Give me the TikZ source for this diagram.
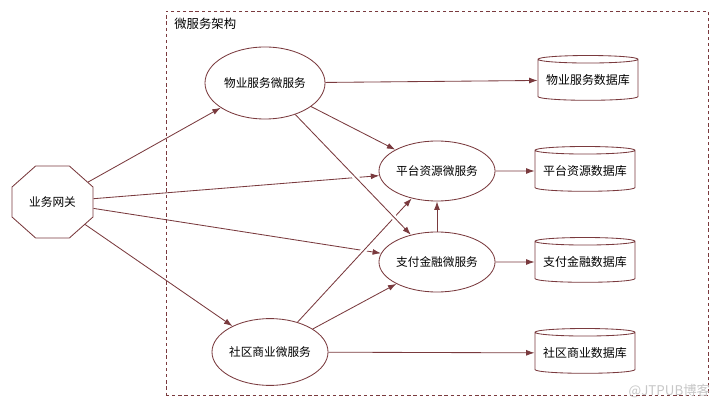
\documentclass[tikz,border=0pt]{standalone}
\usepackage{fontspec}
\setmainfont{Noto Sans CJK SC}
\usepackage{tikz}
\usetikzlibrary{arrows.meta,shapes.geometric}
\definecolor{linered}{HTML}{7A3A3E}
\tikzset{
  service/.style={ellipse, draw=linered, line width=0.6pt, inner sep=0pt, font=\fontsize{8.3pt}{10pt}\selectfont},
  store/.style={cylinder, shape border rotate=90, shape aspect=0.09, draw=linered, line width=0.6pt, inner sep=0pt,
    minimum width=2.5cm, minimum height=1.12cm, font=\fontsize{8.5pt}{10pt}\selectfont},
  gate/.style={regular polygon, regular polygon sides=8, draw=linered, line width=0.6pt, inner sep=0pt,
    minimum size=1.95cm, xscale=1.125, transform shape, font=\fontsize{8.3pt}{10pt}\selectfont},
  link/.style={-{Latex[length=6pt,width=4.2pt]}, color=linered, line width=0.6pt},
  gap/.style={draw=white, line width=4pt, shorten >=9pt, shorten <=9pt}
}
\begin{document}
\begin{tikzpicture}[x=0.025cm, y=-0.025cm]
  \useasboundingbox (0,0) rectangle (720,405);
  \node (frame) [draw=linered, dash pattern=on 2.4pt off 2pt, line width=0.5pt, minimum width=13.55cm, minimum height=9.6cm, inner sep=0pt] at (437,203) {};
  \node (title) [anchor=west, inner sep=0pt, font=\fontsize{8.8pt}{10pt}\selectfont] at (174,24) {微服务架构};
  \node (gateway) [gate] at (52.5,202) {\scalebox{0.889}[1]{业务网关}};
  \node (wuye) [service, minimum width=3cm, minimum height=1.8cm] at (265,83) {物业服务微服务};
  \node (pingtai) [service, minimum width=2.9cm, minimum height=1.5cm] at (437,171) {平台资源微服务};
  \node (zhifu) [service, minimum width=2.9cm, minimum height=1.5cm] at (437,262) {支付金融微服务};
  \node (shequ) [service, minimum width=2.9cm, minimum height=1.67cm] at (270,352) {社区商业微服务};
  \node (wuyedb) [store] at (588,80) {\raisebox{-1.6pt}{物业服务数据库}};
  \node (pingtaidb) [store] at (585,171) {\raisebox{-1.6pt}{平台资源数据库}};
  \node (zhifudb) [store] at (585,262) {\raisebox{-1.6pt}{支付金融数据库}};
  \node (shequdb) [store] at (585,353) {\raisebox{-1.6pt}{社区商业数据库}};
  \node (mark) [anchor=east, text=black!22, font=\fontsize{9.5pt}{10pt}\selectfont] at (715,391) {@JTPUB博客};
  \path[link]
  (gateway) edge (wuye)
            edge (pingtai)
            edge (zhifu)
            edge (shequ)
  ;
  \draw[gap] (shequ) -- (pingtai);
  \path[link]
  (shequ) edge (pingtai)
          edge (zhifu)
          edge (shequdb)
  ;
  \draw[gap] (wuye) -- (zhifu);
  \path[link]
  (wuye) edge (zhifu)
         edge (pingtai)
         edge (wuyedb)
  (zhifu) edge (pingtai)
          edge (zhifudb)
  (pingtai) edge (pingtaidb)
  ;
\end{tikzpicture}
\end{document}
